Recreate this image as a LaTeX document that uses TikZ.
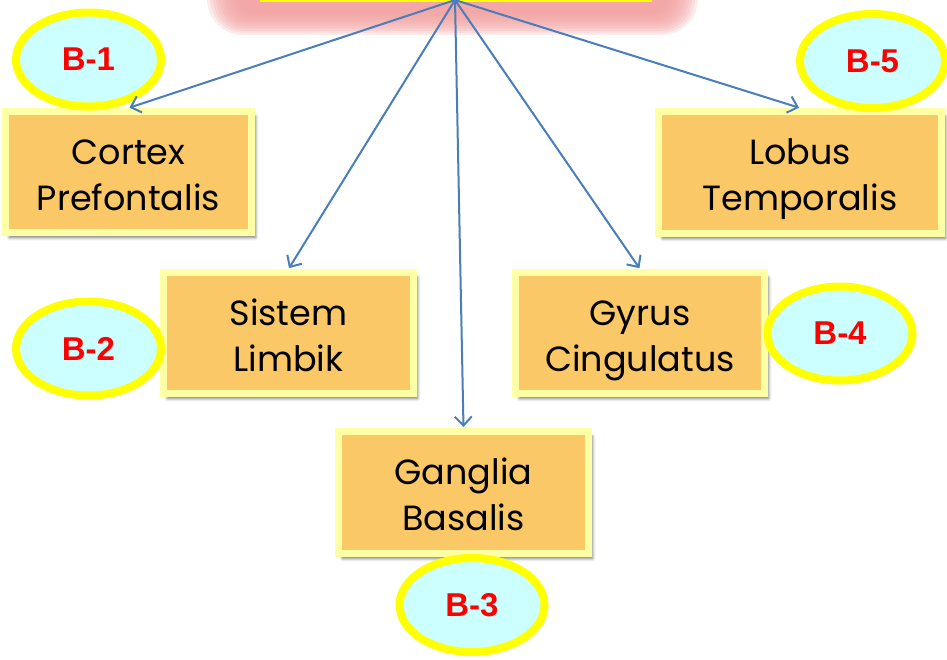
\documentclass[tikz,border=0pt]{standalone}
\usepackage{fontspec}
\setmainfont{Poppins}
\newfontfamily\labfont{Liberation Sans}
\usetikzlibrary{arrows.meta,shadows.blur,shapes.geometric}
\definecolor{boxfill}{HTML}{FBC868}
\definecolor{bevel}{HTML}{FFFFA6}
\definecolor{arrcol}{HTML}{4A7EBB}
\definecolor{tagfill}{HTML}{CCFFFF}
\definecolor{tagline}{HTML}{FFFF00}
\definecolor{tagtext}{HTML}{FF0000}
\definecolor{glowcol}{HTML}{F2A0A0}
\newcommand\twolines[2]{\raisebox{0pt}[30pt][46pt]{\begin{tabular}[t]{@{}c@{}}#1\\#2\end{tabular}}}
\tikzset{
  regionbox/.style={rectangle, fill=boxfill, draw=bevel, line width=7pt, outer sep=3.5pt,
    font=\fontsize{35}{46}\selectfont, text=black, inner sep=0pt,
    blur shadow={shadow xshift=4pt, shadow yshift=-5pt, shadow blur radius=3pt, shadow opacity=55}},
  tag/.style={ellipse, fill=tagfill, draw=tagline, line width=8pt, inner sep=0pt,
    minimum width=145pt, minimum height=94pt, outer sep=4pt,
    font=\labfont\bfseries\fontsize{33}{36}\selectfont, text=tagtext},
  arr/.style={draw=arrcol, line width=2pt, -{Straight Barb[length=9pt,width=17pt,line width=2pt]}, shorten >=1pt}
}
\begin{document}
\begin{tikzpicture}[x=1pt,y=-1pt]
\useasboundingbox (0,0) rectangle (947,659);
% glow behind the top box
\foreach \k in {0,...,11} {
  \fill[glowcol, opacity=0.2, rounded corners={14pt+2pt*\k}]
    (240-3*\k,-60) rectangle (665+3*\k,12+2.1*\k);
}
\node[rectangle, fill=tagline, minimum width=392pt, minimum height=44pt, inner sep=0pt] (topbox) at (456,-20) {};
\coordinate (src) at (455,0);

% boxes
\node[regionbox, minimum width=246pt, minimum height=121pt] (cortex) at (128.5,172) {\twolines{Cortex}{Prefontalis}};
\node[regionbox, minimum width=250pt, minimum height=121pt] (limbik) at (288.5,333) {\twolines{Sistem}{Limbik}};
\node[regionbox, minimum width=250pt, minimum height=122pt] (ganglia) at (463.5,492.5) {\twolines{Ganglia}{Basalis}};
\node[regionbox, minimum width=249pt, minimum height=121pt] (gyrus) at (640,333) {\twolines{Gyrus}{Cingulatus}};
\node[regionbox, minimum width=283pt, minimum height=122pt] (lobus) at (800,172.5) {\twolines{Lobus}{Temporalis}};

% tags
\node[tag] (b1) at (88.5,59.5) {B-1};
\node[tag] (b2) at (88.5,348.5) {B-2};
\node[tag] (b3) at (472,605) {B-3};
\node[tag] (b4) at (840,333.5) {B-4};
\node[tag] (b5) at (872.5,61) {B-5};

% connectors
\draw[arr] (src) -- (cortex.north);
\draw[arr] (src) -- (limbik.north);
\draw[arr] (src) -- (ganglia.north);
\draw[arr] (src) -- (gyrus.north);
\draw[arr] (src) -- (lobus.north);
\end{tikzpicture}
\end{document}
